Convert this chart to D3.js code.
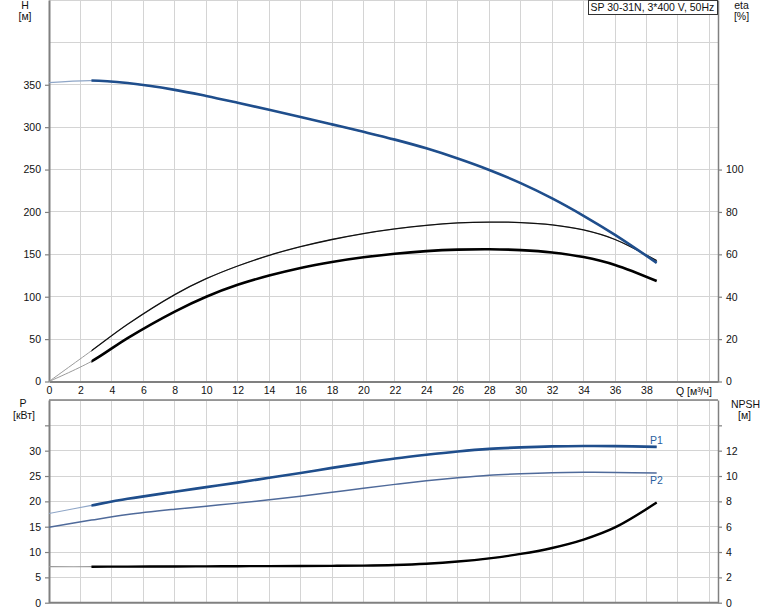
<!DOCTYPE html>
<html>
<head>
<meta charset="utf-8">
<script src="https://cdn.jsdelivr.net/npm/d3@7"></script>
<style>
  html, body { margin: 0; padding: 0; background: #fff; }
  svg { display: block; }
  text { font-family: "Liberation Sans", Arial, sans-serif; font-size: 10.5px; fill: #111; }
</style>
</head>
<body>
<svg id="chart" width="774" height="611"></svg>
<script>
// ---------------- data ----------------
const Q      = [0, 2.7, 5, 8, 10, 12, 14, 16, 18, 20, 22, 24, 26, 28, 30, 32, 34, 36, 38.65];
const H      = [352.5, 355, 352, 344, 336.8, 328.8, 320.5, 312, 303.3, 294.5, 285.3, 275, 263, 249.5, 234, 216, 195.5, 173, 140];
const etaPump  = [0, 14.5, 27, 41, 48.5, 54.5, 59.5, 63.6, 67, 69.8, 72, 73.7, 74.8, 75.2, 75, 73.9, 71.5, 67, 57];
const etaTotal = [0, 9.5, 20.5, 33, 40, 45.6, 50, 53.6, 56.4, 58.6, 60.3, 61.5, 62.2, 62.4, 62, 60.9, 58.7, 55, 47.4];
const P1     = [17.6, 19.2, 20.5, 21.9, 22.8, 23.7, 24.65, 25.6, 26.6, 27.55, 28.45, 29.2, 29.85, 30.35, 30.65, 30.85, 30.93, 30.9, 30.75];
const P2     = [14.9, 16.3, 17.4, 18.45, 19.05, 19.65, 20.3, 21.0, 21.8, 22.6, 23.35, 24.05, 24.65, 25.15, 25.45, 25.65, 25.72, 25.7, 25.6];
const NPSH   = [2.84, 2.84, 2.85, 2.86, 2.87, 2.88, 2.89, 2.9, 2.91, 2.93, 2.98, 3.08, 3.25, 3.5, 3.85, 4.32, 4.98, 5.94, 7.9];
const qStart = 2.7; // start of the operating range (thick lines)

const qTicks    = d3.range(0, 40, 2);      // 0..38
const qGrid     = d3.range(0, 43, 2);      // 0..42
const hTicks    = [0, 50, 100, 150, 200, 250, 300, 350];
const hGrid     = d3.range(0, 451, 50);
const etaTicks  = [0, 20, 40, 60, 80, 100];
const pTicks    = [0, 5, 10, 15, 20, 25, 30];
const pTickMarks= [0, 5, 10, 15, 20, 25, 30, 35];
const pGrid     = d3.range(0, 41, 5);
const npshTicks = [0, 2, 4, 6, 8, 10, 12];
const npshTickMarks = [0, 2, 4, 6, 8, 10, 12, 14];
const title = "SP 30-31N, 3*400 V, 50Hz";

// ---------------- layout ----------------
const L = 49, R = 718;
const top1 = 0, bot1 = 381.5;
const top2 = 400, bot2 = 602.7;
const blue = "#1f4e8c", blueLight = "#8fa6c7", p2Col = "#4f6a9a", gridCol = "#d4d4d4", axisCol = "#808080";

const svg = d3.select("#chart");
svg.append("rect").attr("width", 774).attr("height", 611).attr("fill", "#fff");

const x    = d3.scaleLinear().domain([0, 42.55]).range([L, R]);
const yH   = d3.scaleLinear().domain([0, 450]).range([bot1, top1]);
const yEta = d3.scaleLinear().domain([0, 180]).range([bot1, top1]);
const yP   = d3.scaleLinear().domain([0, 40]).range([bot2, top2]);
const yN   = d3.scaleLinear().domain([0, 16]).range([bot2, top2]);

// ---------------- grid ----------------
const g = svg.append("g").attr("stroke", gridCol).attr("stroke-width", 1).attr("shape-rendering", "crispEdges");
qGrid.forEach(q => {
  g.append("line").attr("x1", x(q)).attr("x2", x(q)).attr("y1", top1).attr("y2", bot1);
  g.append("line").attr("x1", x(q)).attr("x2", x(q)).attr("y1", top2).attr("y2", bot2);
});
hGrid.forEach(h => g.append("line").attr("x1", L).attr("x2", R).attr("y1", yH(h)).attr("y2", yH(h)));
pGrid.forEach(p => g.append("line").attr("x1", L).attr("x2", R).attr("y1", yP(p)).attr("y2", yP(p)));

// ---------------- axes ----------------
function styleAxis(sel, w) {
  sel.select(".domain").attr("stroke", axisCol).attr("stroke-width", w);
  sel.selectAll(".tick line").attr("stroke", axisCol).attr("stroke-width", 1.2);
  sel.selectAll("text").attr("font-size", null).attr("font-family", null).attr("fill", "#111");
  sel.attr("font-size", null).attr("font-family", null);
}
// top panel
svg.append("g").attr("transform", `translate(${L},0)`)
  .call(d3.axisLeft(yH).tickValues(hTicks).tickSize(4).tickSizeOuter(0).tickPadding(4))
  .call(s => styleAxis(s, 2));
svg.append("g").attr("transform", `translate(${R},0)`)
  .call(d3.axisRight(yEta).tickValues(etaTicks).tickSize(4).tickSizeOuter(0).tickPadding(4))
  .call(s => styleAxis(s, 1.5));
svg.append("g").attr("transform", `translate(0,${bot1})`)
  .call(d3.axisBottom(x).tickValues(qTicks).tickSize(0).tickSizeOuter(0).tickPadding(5.5))
  .call(s => styleAxis(s, 2));
svg.append("text").attr("x", x(40) - 2).attr("y", 394.5).text("Q [м³/ч]");

// bottom panel
svg.append("g").attr("transform", `translate(${L},0)`)
  .call(d3.axisLeft(yP).tickValues(pTickMarks).tickFormat(d => pTicks.includes(d) ? d : "").tickSize(4).tickSizeOuter(0).tickPadding(4))
  .call(s => styleAxis(s, 2));
svg.append("g").attr("transform", `translate(${R},0)`)
  .call(d3.axisRight(yN).tickValues(npshTickMarks).tickFormat(d => npshTicks.includes(d) ? d : "").tickSize(4).tickSizeOuter(0).tickPadding(4))
  .call(s => styleAxis(s, 1.5));
svg.append("line").attr("x1", L).attr("x2", R).attr("y1", bot2).attr("y2", bot2).attr("stroke", axisCol).attr("stroke-width", 2);
svg.append("line").attr("x1", L).attr("x2", R).attr("y1", top2).attr("y2", top2).attr("stroke", axisCol).attr("stroke-width", 1.5);

// axis titles
function label(xp, y, t, anchor) {
  svg.append("text").attr("x", xp).attr("y", y).attr("text-anchor", anchor || "middle").text(t);
}
label(25, 8.5, "H"); label(25, 20, "[м]");
label(741.5, 8.5, "eta"); label(741.5, 20, "[%]");
label(23, 407, "P"); label(24, 419, "[кВт]");
label(745.5, 407.5, "NPSH"); label(744.5, 419, "[м]");

// ---------------- curves ----------------
const defs = svg.append("defs");
defs.append("clipPath").attr("id", "clipTop").append("rect")
  .attr("x", x(qStart)).attr("y", top1).attr("width", R - x(qStart)).attr("height", bot1 - top1);
defs.append("clipPath").attr("id", "clipBot").append("rect")
  .attr("x", x(qStart)).attr("y", top2).attr("width", R - x(qStart)).attr("height", bot2 - top2);

function curve(vals, yScale) {
  return d3.line().x((d, i) => x(Q[i])).y(d => yScale(d)).curve(d3.curveCatmullRom.alpha(0.5))(vals);
}
function draw(vals, yScale, thinCol, thinW, thickCol, thickW, clip) {
  svg.append("path").attr("d", curve(vals, yScale)).attr("fill", "none")
    .attr("stroke", thinCol).attr("stroke-width", thinW);
  if (thickCol) {
    svg.append("path").attr("d", curve(vals, yScale)).attr("fill", "none")
      .attr("stroke", thickCol).attr("stroke-width", thickW).attr("clip-path", `url(#${clip})`);
  }
}
// top panel
draw(etaPump, yEta, "#9a9a9a", 1, "#111", 1.3, "clipTop");
draw(etaTotal, yEta, "#9a9a9a", 1, "#000", 2.6, "clipTop");
draw(H, yH, blueLight, 1.2, blue, 2.6, "clipTop");
// bottom panel
draw(P2, yP, p2Col, 1.5, null);
draw(P1, yP, blueLight, 1.2, blue, 2.6, "clipBot");
draw(NPSH, yN, "#9a9a9a", 1.2, "#000", 2.4, "clipBot");

svg.append("text").attr("x", 650).attr("y", 443.5).style("fill", "#2b5fa0").text("P1");
svg.append("text").attr("x", 650).attr("y", 484).style("fill", "#2b5fa0").text("P2");

// ---------------- title box ----------------
svg.append("rect").attr("x", 588.5).attr("y", 0.5).attr("width", 129).attr("height", 14)
  .attr("fill", "#fff").attr("stroke", "#333").attr("stroke-width", 1);
svg.append("text").attr("x", 590.5).attr("y", 11).text(title);
</script>
</body>
</html>
